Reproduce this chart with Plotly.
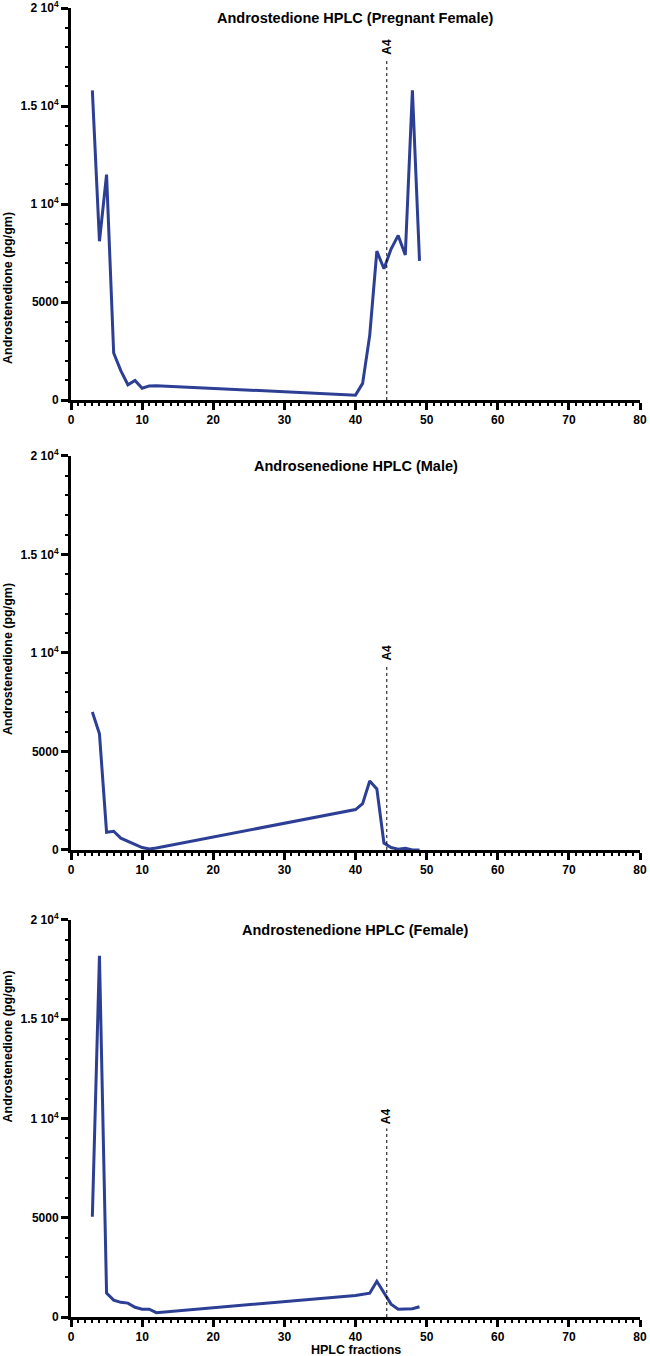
import plotly.graph_objects as go

# fractions
frac = [3, 4, 5, 6, 7, 8, 9, 10, 11, 12, 40, 41, 42, 43, 44, 45, 46, 47, 48, 49]

# androstenedione (pg/gm) per fraction
pregnant_female = [15800, 8100, 11500, 2400, 1500, 780, 1000, 600, 720, 730,
                   250, 850, 3300, 7600, 6700, 7700, 8400, 7400, 15800, 7100]
male = [7000, 5900, 900, 950, 600, 450, 300, 120, 50, 100,
        2050, 2350, 3500, 3100, 350, 120, 40, 90, 0, 0]
female = [5050, 18200, 1200, 850, 740, 700, 490, 390, 390, 220,
          1080, 1150, 1200, 1800, 1200, 650, 390, 390, 420, 520]

titles = ["Androstedione HPLC (Pregnant Female)",
          "Androsenedione HPLC (Male)",
          "Androstenedione HPLC (Female)"]
series = [pregnant_female, male, female]

a4_x = 44.4
a4_top = [17400, 9400, 9500]

y_ticks = [0, 5000, 10000, 15000, 20000]
y_ticktext = ["0", "5000", "1 10<sup>4</sup>", "1.5 10<sup>4</sup>", "2 10<sup>4</sup>"]

# panel heights in paper fractions (plot area 8..1317 px)
domains = [[0.7005, 1.0], [0.3568, 0.6578], [0.0, 0.3033]]

font_fam = "Liberation Sans, Arial, sans-serif"
line_col = "#2c3f94"
bold = lambda s: dict(family=font_fam, size=s, color="black", weight="bold")

fig = go.Figure()

for i, (vals, title) in enumerate(zip(series, titles)):
    n = "" if i == 0 else str(i + 1)
    xa = "x" + n
    ya = "y" + n
    fig.add_trace(go.Scatter(
        x=frac, y=vals, mode="lines",
        line=dict(color=line_col, width=3),
        xaxis=xa, yaxis=ya, showlegend=False, cliponaxis=False,
    ))

    axis_common = dict(
        showline=True, linecolor="black", linewidth=3,
        ticks="outside", ticklen=7, tickwidth=2.5, tickcolor="black",
        showgrid=False, zeroline=False, automargin=False,
        ticklabeloverflow="allow",
        tickfont=bold(12),
    )
    fig.layout["xaxis" + n] = dict(
        axis_common, range=[0, 80], dtick=10, anchor=ya, domain=[0, 1],
        minor=dict(dtick=1, ticks="outside", ticklen=3, tickwidth=2, tickcolor="black"),
    )
    fig.layout["yaxis" + n] = dict(
        axis_common, range=[0, 20000], tickvals=y_ticks, ticktext=y_ticktext,
        anchor=xa, domain=domains[i],
        minor=dict(dtick=1000, ticks="outside", ticklen=3, tickwidth=2, tickcolor="black"),
    )

    # y axis title
    fig.add_annotation(xref="paper", yref="paper", x=0, xshift=-63, xanchor="center",
                       y=(domains[i][0] + domains[i][1]) / 2, yshift=-6,
                       text="Androstenedione (pg/gm)", textangle=-90, showarrow=False,
                       font=bold(12.5))

    # A4 marker line
    fig.add_shape(type="line", xref=xa, yref=ya, x0=a4_x, x1=a4_x, y0=0, y1=a4_top[i],
                  line=dict(color="black", width=1, dash="dot"))
    fig.add_annotation(xref=xa, yref=ya, x=a4_x, y=a4_top[i], text="A4",
                       textangle=-90, showarrow=False, yanchor="bottom", yshift=2,
                       font=bold(12))

    # panel title
    fig.add_annotation(xref="paper", yref="paper", x=0.5, y=domains[i][1],
                       text=title, showarrow=False, yanchor="middle", yshift=-10,
                       font=bold(14.5))

# x axis title (bottom panel only)
fig.add_annotation(xref="paper", yref="paper", x=0.5, y=0, yshift=-33,
                   yanchor="middle", text="HPLC fractions", showarrow=False,
                   font=bold(12.5))

fig.update_layout(
    width=650, height=1356,
    margin=dict(l=71, r=10, t=8, b=39),
    paper_bgcolor="white", plot_bgcolor="white",
)

# drop the default page margin so the figure fills the window exactly
fig.write_html("out.html", config={"displayModeBar": False},
               post_script="document.body.style.margin='0';")
